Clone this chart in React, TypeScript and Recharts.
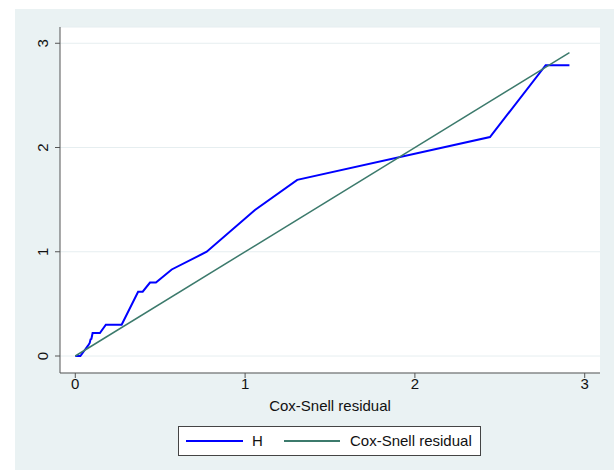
import { ComposedChart, Line, XAxis, YAxis, CartesianGrid, Label } from "recharts"

const hX = [0, 0.03, 0.057, 0.077, 0.085, 0.09, 0.095, 0.102, 0.145, 0.18, 0.273, 0.37, 0.397, 0.44, 0.475, 0.568, 0.774, 1.058, 1.307, 2.442, 2.77, 2.91]
const hY = [0, 0, 0.06, 0.105, 0.125, 0.16, 0.165, 0.22, 0.22, 0.3, 0.3, 0.617, 0.617, 0.705, 0.705, 0.83, 1.0, 1.4, 1.69, 2.1, 2.79, 2.79]
const csX = [0, 2.91]
const csY = [0, 2.91]
const xTicks = [0, 1, 2, 3]
const yTicks = [0, 1, 2, 3]
const seriesNames = ["H", "Cox-Snell residual"]
const seriesColors = ["#0000ff", "#3c7a6c"]
const xTitle = "Cox-Snell residual"

const hData = hX.map((x, i) => ({ x, y: hY[i] }))
const csData = csX.map((x, i) => ({ x, y: csY[i] }))

const font = "'Liberation Sans', Arial, sans-serif"

function YTick(props: any) {
  const { x, y, payload } = props
  const tx = x - 5
  return (
    <text x={tx} y={y} transform={`rotate(-90, ${tx}, ${y})`} textAnchor="middle" fontSize={15} fill="#111" fontFamily={font}>
      {payload.value}
    </text>
  )
}

export default function App() {
  return (
    <div style={{ position: "absolute", left: 0, top: 0, width: 614, height: 470, background: "#fff", fontFamily: font }}>
      <div style={{ position: "absolute", left: 15, top: 9, right: 0, bottom: 0, background: "#eaf2f3" }} />
      <div style={{ position: "absolute", left: 0, top: 0 }}>
        <ComposedChart width={614} height={470} margin={{ top: 27, right: 14, bottom: 72, left: 15 }}>
          <CartesianGrid vertical={false} stroke="#e6eef0" fill="#ffffff" />
          <XAxis
            type="number"
            dataKey="x"
            domain={[-0.09, 3.09]}
            ticks={xTicks}
            allowDataOverflow
            stroke="#555"
            tickSize={5}
            tickMargin={0}
            height={25}
            tick={{ fontSize: 15, fill: "#111", fontFamily: font }}
          >
            <Label value={xTitle} position="bottom" offset={2} style={{ fontSize: 15, fill: "#111", fontFamily: font }} />
          </XAxis>
          <YAxis
            type="number"
            dataKey="y"
            domain={[-0.163, 3.156]}
            ticks={yTicks}
            allowDataOverflow
            stroke="#555"
            tickSize={5}
            width={45}
            tick={<YTick />}
          />
          <Line data={hData} dataKey="y" name={seriesNames[0]} type="linear" stroke={seriesColors[0]} strokeWidth={2} dot={false} isAnimationActive={false} />
          <Line data={csData} dataKey="y" name={seriesNames[1]} type="linear" stroke={seriesColors[1]} strokeWidth={1.5} dot={false} isAnimationActive={false} />
        </ComposedChart>
      </div>
      <div style={{ position: "absolute", left: 178, top: 426, width: 301, height: 28, border: "1px solid #444", background: "#fff", display: "flex", alignItems: "center", fontSize: 15, color: "#111" }}>
        <span style={{ position: "absolute", left: 7, top: 13, width: 57, height: 2, background: seriesColors[0] }} />
        <span style={{ position: "absolute", left: 73, top: 5 }}>{seriesNames[0]}</span>
        <span style={{ position: "absolute", left: 105, top: 13, width: 56, height: 1.5, background: seriesColors[1] }} />
        <span style={{ position: "absolute", left: 171, top: 5 }}>{seriesNames[1]}</span>
      </div>
    </div>
  )
}
